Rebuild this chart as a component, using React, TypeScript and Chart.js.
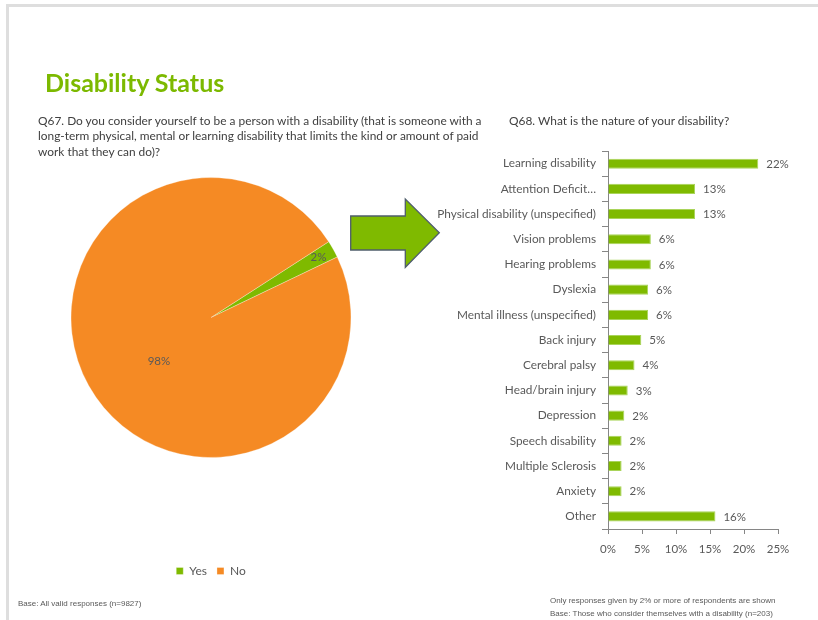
import React, { useEffect, useRef } from "react";
import { Chart, registerables } from "chart.js";

Chart.register(...registerables);

const pieLabels = ["Yes", "No"];
const pieValues = [2, 98];
const pieColors = ["#7fba00", "#f58a24"];
const pieLabelRadius = [0.88, 0.486];
const pieLabelAngleShift = [0, -0.19];

const barCategories = [
  "Learning disability",
  "Attention Deficit…",
  "Physical disability (unspecified)",
  "Vision problems",
  "Hearing problems",
  "Dyslexia",
  "Mental illness (unspecified)",
  "Back injury",
  "Cerebral palsy",
  "Head/brain injury",
  "Depression",
  "Speech disability",
  "Multiple Sclerosis",
  "Anxiety",
  "Other",
];
const barValues = [22.1, 12.8, 12.8, 6.3, 6.3, 5.9, 5.9, 4.9, 3.9, 2.9, 2.4, 2.0, 2.0, 2.0, 15.8];
const xTickValues = [0, 5, 10, 15, 20, 25];

const FONT = "Lato, 'Open Sans', sans-serif";
const TEXT = "#595959";

const pieLabelPlugin = {
  id: "pieLabels",
  afterDatasetsDraw(chart: any) {
    const ctx = chart.ctx;
    const meta = chart.getDatasetMeta(0);
    ctx.save();
    ctx.font = `11.5px ${FONT}`;
    ctx.fillStyle = TEXT;
    ctx.textAlign = "center";
    ctx.textBaseline = "middle";
    meta.data.forEach((arc: any, i: number) => {
      const mid = (arc.startAngle + arc.endAngle) / 2 + pieLabelAngleShift[i];
      const r = arc.outerRadius * pieLabelRadius[i];
      ctx.fillText(pieValues[i] + "%", arc.x + Math.cos(mid) * r, arc.y + Math.sin(mid) * r);
    });
    ctx.restore();
  },
};

const barLabelPlugin = {
  id: "barLabels",
  afterDatasetsDraw(chart: any) {
    const ctx = chart.ctx;
    const meta = chart.getDatasetMeta(0);
    ctx.save();
    ctx.font = `11.5px ${FONT}`;
    ctx.fillStyle = TEXT;
    ctx.textAlign = "left";
    ctx.textBaseline = "middle";
    meta.data.forEach((bar: any, i: number) => {
      ctx.fillText(Math.round(barValues[i]) + "%", bar.x + 8, bar.y + 0.5);
    });
    ctx.restore();
  },
};

function PieChart() {
  const ref = useRef<HTMLCanvasElement>(null);
  useEffect(() => {
    const chart = new Chart(ref.current!, {
      type: "pie",
      data: {
        labels: pieLabels,
        datasets: [
          {
            data: pieValues,
            backgroundColor: pieColors,
            borderColor: "rgba(255,255,255,0.6)",
            borderWidth: 0.5,
          },
        ],
      },
      options: {
        animation: false,
        responsive: false,
        rotation: 57.2,
        radius: 140,
        layout: { padding: 0 },
        plugins: {
          tooltip: { enabled: false },
          legend: {
            position: "bottom",
            labels: {
              boxWidth: 7,
              boxHeight: 7,
              padding: 10,
              color: TEXT,
              font: { family: FONT, size: 12 },
            },
          },
        },
      },
      plugins: [pieLabelPlugin],
    });
    return () => chart.destroy();
  }, []);
  return (
    <canvas
      ref={ref}
      width={300}
      height={507}
      style={{ position: "absolute", left: 61, top: 80, width: 300, height: 507 }}
    />
  );
}

function BarChart() {
  const ref = useRef<HTMLCanvasElement>(null);
  useEffect(() => {
    const chart = new Chart(ref.current!, {
      type: "bar",
      data: {
        labels: barCategories,
        datasets: [
          {
            data: barValues,
            backgroundColor: "#7fba00",
            borderColor: "#a9d45a",
            borderWidth: 1,
            barPercentage: 0.4,
            categoryPercentage: 1,
          },
        ],
      },
      options: {
        animation: false,
        responsive: false,
        indexAxis: "y",
        layout: { padding: { top: 7.5, right: 27, left: 0, bottom: 0 } },
        plugins: { legend: { display: false }, tooltip: { enabled: false } },
        scales: {
          x: {
            type: "linear",
            min: 0,
            max: 25,
            afterBuildTicks(scale: any) {
              scale.ticks = xTickValues.map((v) => ({ value: v }));
            },
            afterFit(scale: any) {
              scale.height = 30;
            },
            grid: { drawOnChartArea: false, drawTicks: true, tickLength: 5, color: "#868686" },
            border: { display: true, color: "#868686", width: 1 },
            ticks: {
              padding: 8,
              color: TEXT,
              font: { family: FONT, size: 11.5 },
              callback: (v: any) => v + "%",
            },
          },
          y: {
            afterFit(scale: any) {
              scale.width = 178;
            },
            grid: { drawOnChartArea: false, drawTicks: true, tickLength: 6, offset: true, color: "#868686" },
            border: { display: true, color: "#868686", width: 1 },
            ticks: {
              padding: 6,
              color: TEXT,
              font: { family: FONT, size: 11.8 },
              autoSkip: false,
            },
          },
        },
      },
      plugins: [barLabelPlugin],
    });
    return () => chart.destroy();
  }, []);
  return (
    <canvas
      ref={ref}
      width={375}
      height={421}
      style={{ position: "absolute", left: 430, top: 138, width: 375, height: 421 }}
    />
  );
}

export default function App() {
  const q: React.CSSProperties = {
    position: "absolute",
    fontFamily: FONT,
    fontSize: 11.9,
    lineHeight: "15.3px",
    color: "#404040",
    whiteSpace: "nowrap",
  };
  const foot: React.CSSProperties = {
    position: "absolute",
    fontFamily: "'Liberation Sans', Arial, sans-serif",
    fontSize: 8,
    lineHeight: "13px",
    color: TEXT,
    whiteSpace: "nowrap",
  };
  return (
    <div
      style={{
        position: "absolute",
        left: 0,
        top: 0,
        width: 818,
        height: 620,
        background: "#fff",
        overflow: "hidden",
      }}
    >
      <div
        style={{
          position: "absolute",
          left: 6,
          top: 4,
          right: -10,
          bottom: -10,
          borderTop: "3px solid #dedede",
          borderLeft: "3px solid #dedede",
        }}
      />
      <PieChart />
      <BarChart />
      <svg width={818} height={620} style={{ position: "absolute", left: 0, top: 0, pointerEvents: "none" }}>
        <polygon
          points="350.7,216 405.3,216 405.3,199 439.3,232.7 405.3,267.3 405.3,250 350.7,250"
          fill="#7fba00"
          stroke="#4f5d6b"
          strokeWidth={1.3}
        />
      </svg>
      <div
        style={{
          position: "absolute",
          left: 45,
          top: 69.5,
          fontFamily: FONT,
          fontWeight: 700,
          fontSize: 25,
          lineHeight: "25px",
          color: "#7cb900",
          whiteSpace: "nowrap",
        }}
      >
        Disability Status
      </div>
      <div style={{ ...q, left: 38, top: 113 }}>
        Q67. Do you consider yourself to be a person with a disability (that is someone with a
        <br />
        long-term physical, mental or learning disability that limits the kind or amount of paid
        <br />
        work that they can do)?
      </div>
      <div style={{ ...q, left: 509, top: 113 }}>Q68. What is the nature of your disability?</div>
      <div style={{ ...foot, left: 18, top: 597 }}>Base: All valid responses (n=9827)</div>
      <div style={{ ...foot, left: 550, top: 594 }}>
        Only responses given by 2% or more of respondents are shown
      </div>
      <div style={{ ...foot, left: 550, top: 607 }}>
        Base: Those who consider themselves with a disability (n=203)
      </div>
    </div>
  );
}
